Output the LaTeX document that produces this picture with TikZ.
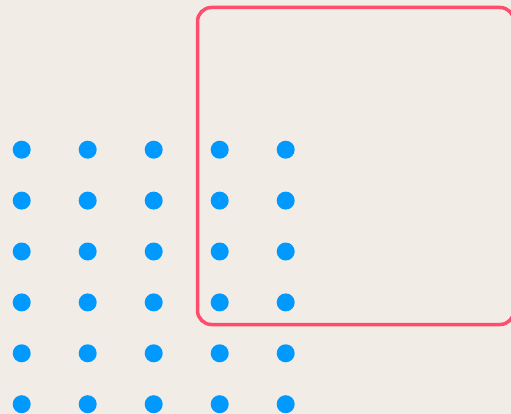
\documentclass[tikz,border=0pt]{standalone}
\definecolor{bg}{HTML}{F1EDE6}
\definecolor{frame}{HTML}{FF4D6D}
\definecolor{dotc}{HTML}{0099FF}
\begin{document}
\begin{tikzpicture}[x=1pt,y=-1pt,
  dotnode/.style={circle,fill=dotc,inner sep=0pt,minimum size=18pt},
  framebox/.style={draw=frame,line width=3.5pt,rounded corners=14pt}]
\useasboundingbox (0,0) rectangle (511,414);
\clip (0,0) rectangle (511,414);
\fill[bg] (0,0) rectangle (511,414);
\draw[framebox] (197.5,7.5) rectangle (514,324.5);
\foreach \i in {0,...,4}{
  \foreach \j in {0,...,5}{
    \node[dotnode] (d\i\j) at ({21.7+66*\i},{149.7+50.9*\j}) {};
  }
}
\end{tikzpicture}
\end{document}
